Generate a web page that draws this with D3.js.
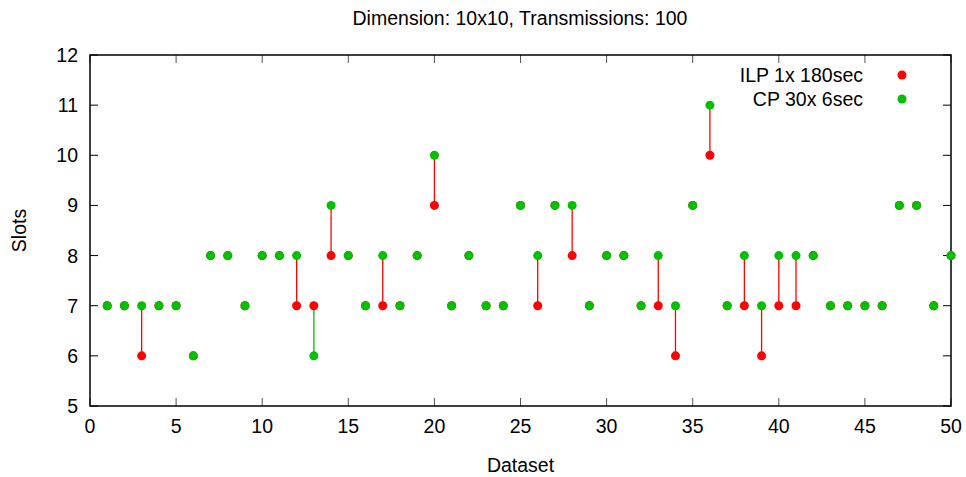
<!DOCTYPE html>
<html>
<head>
<meta charset="utf-8">
<script src="https://cdn.jsdelivr.net/npm/d3@7"></script>
<style>
  body { margin: 0; background: #fff; }
  svg text { font-family: "Liberation Sans", Arial, sans-serif; fill: #000; }
</style>
</head>
<body>
<div id="chart"></div>
<script>
// dataset ids and slot counts per solver
var datasets = d3.range(1, 51);
var ilp = [7,7,6,7,7,6,8,8,7,8, 8,7,7,8,8,7,7,7,8,9, 7,8,7,7,9,7,9,8,7,8,
           8,7,7,6,9,10,7,7,6,7, 7,8,7,7,7,7,9,9,7,8];
var cp  = [7,7,7,7,7,6,8,8,7,8, 8,8,6,9,8,7,8,7,8,10, 7,8,7,7,9,8,9,9,7,8,
           8,7,8,7,9,11,7,8,7,8, 8,8,7,7,7,7,9,9,7,8];
var xTicks = d3.range(0, 51, 5);
var yTicks = d3.range(5, 13, 1);
var seriesNames = ['ILP 1x 180sec', 'CP 30x 6sec'];

var W = 966, H = 477;
var m = { left: 90, right: 15, top: 55, bottom: 71 };
var RED = '#ff0000', GREEN = '#00c000';
var FS = 19.5;

var svg = d3.select('#chart').append('svg').attr('width', W).attr('height', H);

var x = d3.scaleLinear().domain([0, 50]).range([m.left, W - m.right]);
var y = d3.scaleLinear().domain([5, 12]).range([H - m.bottom, m.top]);

// title + axis labels
svg.append('text').attr('x', 520).attr('y', 25).attr('text-anchor', 'middle')
  .attr('font-size', FS).text('Dimension: 10x10, Transmissions: 100');
svg.append('text').attr('x', (m.left + W - m.right) / 2).attr('y', 472).attr('text-anchor', 'middle')
  .attr('font-size', FS).text('Dataset');
svg.append('text').attr('transform', 'translate(26,' + ((m.top + H - m.bottom) / 2) + ') rotate(-90)')
  .attr('text-anchor', 'middle').attr('font-size', FS).text('Slots');

// gnuplot-style inward ticks, mirrored on all four sides
var tickLen = 8;
var ticks = svg.append('g').attr('stroke', '#000').attr('stroke-width', 1);
xTicks.forEach(function (t) {
  ticks.append('line').attr('x1', x(t)).attr('x2', x(t))
    .attr('y1', y(5)).attr('y2', y(5) - tickLen).attr('stroke', '#555');
  ticks.append('line').attr('x1', x(t)).attr('x2', x(t))
    .attr('y1', y(12)).attr('y2', y(12) + tickLen).attr('stroke', '#555');
  svg.append('text').attr('x', x(t)).attr('y', y(5) + 27).attr('text-anchor', 'middle')
    .attr('font-size', FS).text(t);
});
yTicks.forEach(function (t) {
  ticks.append('line').attr('x1', x(0)).attr('x2', x(0) + tickLen)
    .attr('y1', y(t)).attr('y2', y(t));
  ticks.append('line').attr('x1', x(50)).attr('x2', x(50) - tickLen)
    .attr('y1', y(t)).attr('y2', y(t));
  svg.append('text').attr('x', x(0) - 12).attr('y', y(t) + 7).attr('text-anchor', 'end')
    .attr('font-size', FS).text(t);
});

svg.append('rect').attr('x', x(0)).attr('y', y(12))
  .attr('width', x(50) - x(0)).attr('height', y(5) - y(12))
  .attr('fill', 'none').attr('stroke', '#000').attr('stroke-width', 1.5);

// connector lines: coloured after the lower of the two results
var rows = datasets.map(function (d, i) { return { d: d, a: ilp[i], b: cp[i] }; });
svg.append('g').selectAll('line').data(rows.filter(function (r) { return r.a !== r.b; }))
  .enter().append('line')
  .attr('x1', function (r) { return x(r.d); }).attr('x2', function (r) { return x(r.d); })
  .attr('y1', function (r) { return y(r.a); }).attr('y2', function (r) { return y(r.b); })
  .attr('stroke', function (r) { return r.a < r.b ? RED : GREEN; })
  .attr('stroke-width', 1.3);

var R = 4.5;
svg.append('g').selectAll('circle').data(rows).enter().append('circle')
  .attr('cx', function (r) { return x(r.d); }).attr('cy', function (r) { return y(r.a); })
  .attr('r', R).attr('fill', RED);
svg.append('g').selectAll('circle').data(rows).enter().append('circle')
  .attr('cx', function (r) { return x(r.d); }).attr('cy', function (r) { return y(r.b); })
  .attr('r', R).attr('fill', GREEN);

// legend
var leg = svg.append('g');
[RED, GREEN].forEach(function (c, i) {
  var ly = 75 + i * 24;
  leg.append('text').attr('x', 863).attr('y', ly + 7).attr('text-anchor', 'end')
    .attr('font-size', FS).text(seriesNames[i]);
  leg.append('circle').attr('cx', 902).attr('cy', ly).attr('r', R).attr('fill', c);
});
</script>
</body>
</html>
